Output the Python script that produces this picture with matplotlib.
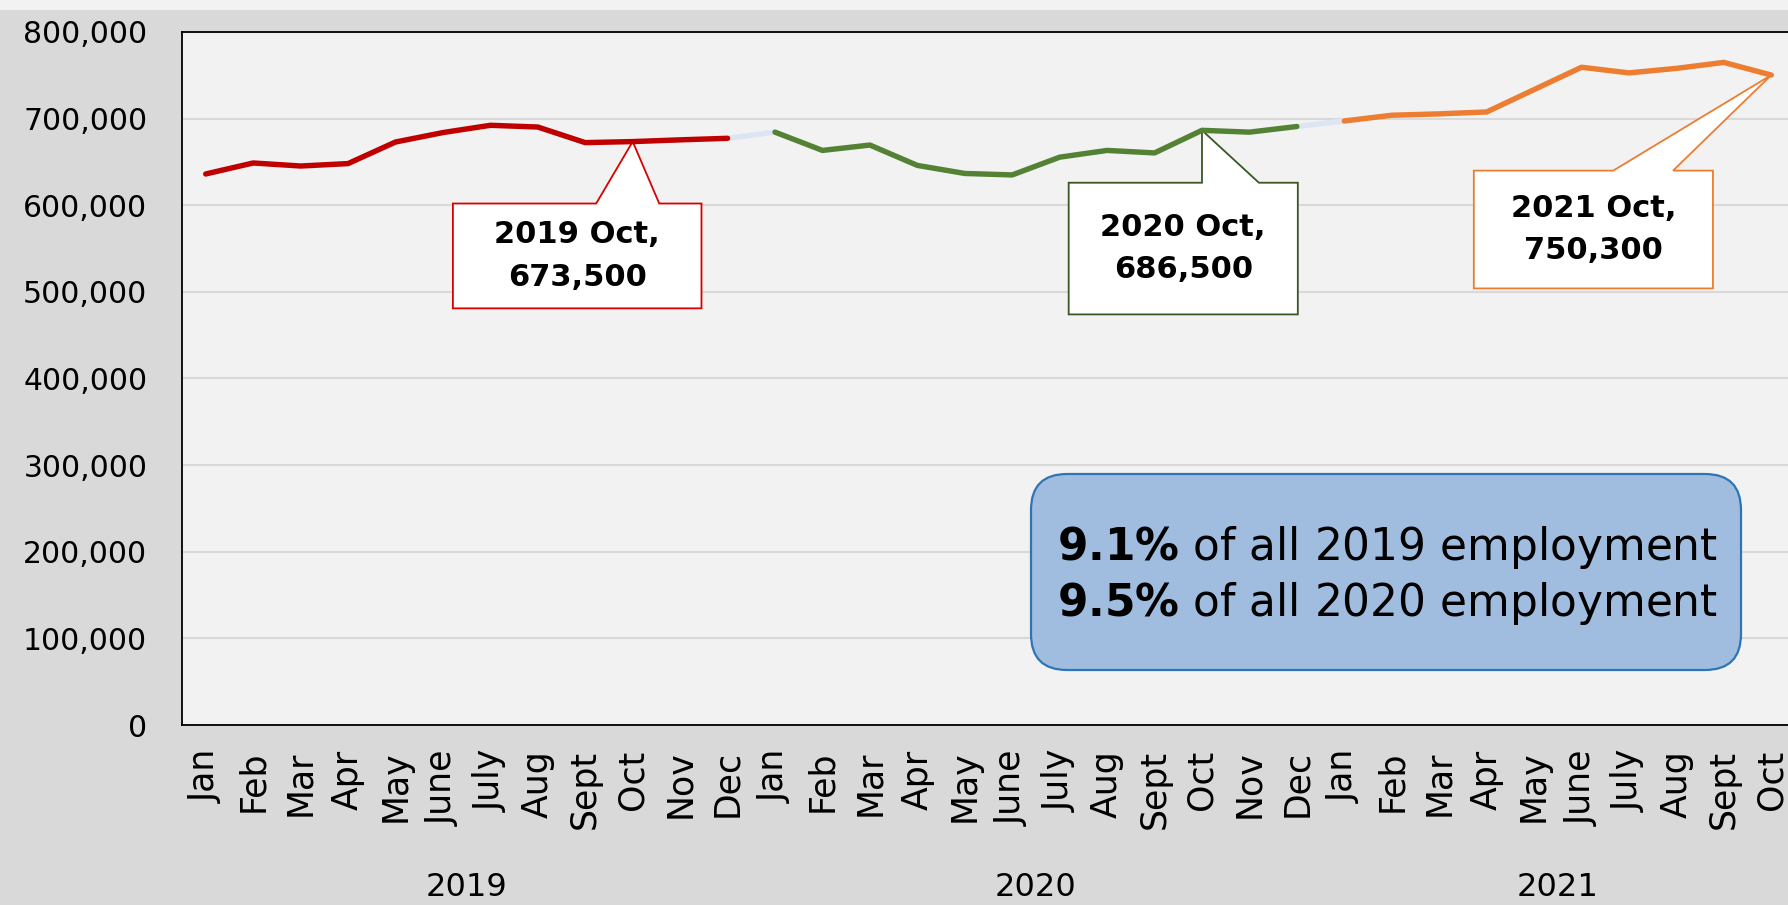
import numpy as np
import matplotlib
matplotlib.use("Agg")
from matplotlib import pyplot as plt
from matplotlib.patches import Polygon, FancyBboxPatch, Rectangle
from matplotlib.ticker import FuncFormatter

# Data
MONTHS = ["Jan", "Feb", "Mar", "Apr", "May", "June", "July", "Aug", "Sept", "Oct", "Nov", "Dec"]
YEARS = [2019, 2020, 2021]
emp_2019 = [636100, 648800, 645300, 648100, 673000, 683900, 692300, 690300, 672300, 673500, 675500, 677300]
emp_2020 = [684400, 663300, 669500, 646000, 636700, 635000, 655500, 663300, 660400, 686500, 684400, 690900]
emp_2021 = [697300, 703900, 705500, 707700, 733500, 759300, 752800, 758000, 764900, 750300]
series = [emp_2019, emp_2020, emp_2021]
line_colors = ["#c00000", "#548235", "#ed7d31"]
box_colors = ["#d80000", "#385723", "#ed7d31"]
gap_color = "#dce6f2"
share_text = ["9.1%", "9.5%"]

# box layout for the callouts: (x0, x1, y0, y1, pointer base left, pointer base right)
callout_boxes = [
    (5.21, 10.45, 481000, 602000, 8.23, 9.56),
    (18.19, 23.02, 474000, 626000, 21.0, 22.2),
    (26.73, 31.77, 504000, 640000, 29.67, 30.93),
]


def main():
    fig = plt.figure(figsize=(17.88, 9.05), dpi=100, facecolor="#d9d9d9")
    fig.patches.append(Rectangle((0, 1 - 10 / 905), 1, 10 / 905, transform=fig.transFigure,
                                 facecolor="#f2f2f2", edgecolor="none", zorder=0))
    ax = fig.add_axes([182 / 1788, 180 / 905, 1613 / 1788, 693 / 905])
    ax.set_facecolor("#f2f2f2")

    # x positions for every month
    starts = np.cumsum([0] + [len(s) for s in series[:-1]])
    xs = [np.arange(st, st + len(s)) for st, s in zip(starts, series)]
    labels = []
    for s in series:
        labels.extend(MONTHS[:len(s)])

    # light connectors between years
    for i in range(len(series) - 1):
        ax.plot([xs[i][-1], xs[i + 1][0]], [series[i][-1], series[i + 1][0]],
                color=gap_color, lw=3.9, solid_capstyle="round", zorder=4)
    for x, s, c in zip(xs, series, line_colors):
        ax.plot(x, s, color=c, lw=3.9, solid_capstyle="round", solid_joinstyle="round", zorder=5)

    # callouts pointing at each October
    for year, x, s, c, b in zip(YEARS, xs, series, box_colors, callout_boxes):
        k = MONTHS.index("Oct")
        tip = (x[k], s[k])
        x0, x1, y0, y1, bl, br = b
        verts = [(x0, y1), (bl, y1), tip, (br, y1), (x1, y1), (x1, y0), (x0, y0)]
        ax.add_patch(Polygon(verts, closed=True, facecolor="white", edgecolor=c, lw=1.3, zorder=3))
        ax.text((x0 + x1) / 2, (y0 + y1) / 2, "{} Oct,\n{:,}".format(year, s[k]),
                ha="center", va="center", fontsize=22, fontweight="bold", linespacing=1.6, zorder=6)

    ax.set_xlim(-0.5, len(labels) - 0.5)
    ax.set_ylim(0, 800000)
    ax.set_yticks(np.arange(0, 800001, 100000))
    ax.yaxis.set_major_formatter(FuncFormatter(lambda v, p: "{:,.0f}".format(v)))
    ax.grid(axis="y", color="#d9d9d9", lw=1.5, zorder=1)
    ax.set_axisbelow(True)
    ax.set_xticks(np.arange(len(labels)))
    ax.set_xticklabels(labels, rotation=90, fontsize=25)
    ax.tick_params(axis="x", length=0, pad=18)
    ax.tick_params(axis="y", length=0, pad=25, labelsize=21.5)
    for side in ["left", "top", "bottom"]:
        ax.spines[side].set_color("black")
        ax.spines[side].set_linewidth(1.3)
    ax.spines["right"].set_visible(False)

    # year labels under the months
    for year, x in zip(YEARS, xs):
        ax.text((x[0] + x[-1]) / 2, -0.234, str(year), transform=ax.get_xaxis_transform(),
                ha="center", va="center", fontsize=23)

    # share-of-employment box
    box = FancyBboxPatch((10.31, 2.35), 7.10, 1.96, boxstyle="round,pad=0,rounding_size=0.36",
                         transform=fig.dpi_scale_trans, facecolor="#a0bcde", edgecolor="#2e75b6",
                         lw=1.6, zorder=7)
    ax.add_patch(box)
    for i, (pct, year) in enumerate(zip(share_text, YEARS[:2])):
        bold = r"$\mathbf{" + pct.replace("%", r"\%") + "}$"
        fig.text(1057 / 1788, 1 - (547 + 56 * i) / 905,
                 bold + " of all {} employment".format(year),
                 ha="left", va="center", fontsize=31.6, zorder=8)

    fig.savefig("out.png", dpi=100, facecolor=fig.get_facecolor())


if __name__ == "__main__":
    main()
